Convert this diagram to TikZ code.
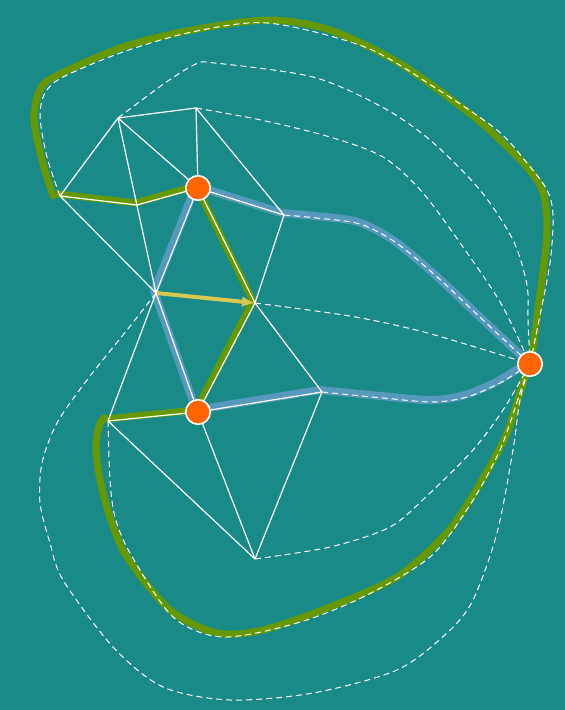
\documentclass[tikz,border=0pt]{standalone}
\usepackage{tikz}
\usetikzlibrary{arrows.meta}
\definecolor{bgteal}{HTML}{1A8A88}
\definecolor{leaf}{HTML}{669900}
\definecolor{steel}{HTML}{5799BD}
\definecolor{flame}{HTML}{FF6600}
\definecolor{straw}{HTML}{D6C850}

\begin{document}
\begin{tikzpicture}[x=1pt,y=-1pt,
  edge/.style={draw=white,line width=1.2pt},
  dsh/.style={draw=white,line width=1pt,dash pattern=on 6pt off 4pt},
  grn/.style={draw=leaf,line width=7pt,line join=round,line cap=round},
  blu/.style={draw=steel,line width=8pt,line join=round,transform canvas={shift={(-2,-2)}}},
  vtx/.style={circle,fill=flame,draw=white,line width=1.6pt,minimum size=24.5pt,inner sep=0pt},
  ar/.style={-{Latex[length=13pt,width=11pt]},draw=straw,line width=4pt}]
\fill[bgteal] (0,0) rectangle (565,710);
\useasboundingbox (0,0) rectangle (565,710);
% mesh points
\coordinate (a) at (118,118);
\coordinate (b) at (196,108);
\coordinate (c) at (60,196);
\coordinate (d) at (137,205);
\coordinate (p1) at (198,188);
\coordinate (e) at (284,215);
\coordinate (f) at (156,293);
\coordinate (g) at (255,303);
\coordinate (p2) at (198,412);
\coordinate (h) at (108,421);
\coordinate (i) at (322,392);
\coordinate (j) at (255,559);
\coordinate (p3) at (530,364);
% green loop
\draw[grn] plot[smooth] coordinates {(53,196) (42,160) (34,120) (39,92) (54,77) (123,47) (192,30) (268,20) (330,30) (399,63) (468,112) (500,140) (527,167) (543,192) (547,230) (542,280) (533,347) (p3)};
\draw[grn] plot[smooth] coordinates {(p3) (523,383) (507,433) (490,466) (470,500) (445,535) (397,577) (330,607) (263,630) (217,633) (170,610) (127,557) (110,517) (100,480) (96,448) (99,426) (104,418)};
\draw[grn,transform canvas={shift={(-2,-2)}}] (c) -- (d) -- (p1) -- (g) -- (p2) -- (h);
% blue loop
\foreach \st in {blu,dsh}
  \draw[\st] plot[smooth] coordinates {(e) (317,218) (360,224) (395,242) (435,275) (483,320) (p3)};
\foreach \st in {blu,dsh}
  \draw[\st] plot[smooth] coordinates {(i) (383,398) (433,402) (467,397) (500,383) (p3)};
\draw[blu] (e) -- (p1) -- (f) -- (p2) -- (i);
\draw[ar] (f) -- (g);
% mesh
\draw[edge] (a) -- (b) (a) -- (c) (a) -- (p1) (a) -- (f) (b) -- (p1) (b) -- (e)
  (c) -- (d) -- (p1) (c) -- (f) (p1) -- (e) (p1) -- (f) (p1) -- (g) (e) -- (g)
  (f) -- (p2) (g) -- (p2) (f) -- (h) (g) -- (i) (h) -- (p2) (p2) -- (i)
  (h) -- (j) (p2) -- (j) (i) -- (j);
% dashed curves to p3
\draw[dsh] plot[smooth] coordinates {(c) (47,157) (40,117) (45,93) (63,77) (123,52) (192,32) (268,23) (365,47) (434,87) (497,130) (527,163) (547,190) (553,215) (550,263) (537,330) (p3)};
\draw[dsh] plot[smooth] coordinates {(a) (165,83) (196,64) (215,63) (313,77) (382,107) (430,140) (480,190) (513,240) (527,285) (528,320) (p3)};
\draw[dsh] plot[smooth] coordinates {(b) (261,120) (330,137) (383,157) (423,193) (470,257) (503,307) (p3)};
\draw[dsh] plot[smooth] coordinates {(g) (350,316) (420,331) (485,350) (p3)};
\draw[dsh] plot[smooth] coordinates {(j) (330,547) (390,527) (430,493) (473,450) (503,410) (p3)};
\draw[dsh] plot[smooth] coordinates {(h) (110,480) (115,517) (130,553) (173,617) (223,637) (297,623) (363,597) (430,557) (470,505) (500,450) (520,393) (p3)};
\draw[dsh] plot[smooth] coordinates {(f) (127,330) (87,380) (57,423) (42,463) (40,503) (50,543) (63,580) (113,647) (163,687) (230,700) (313,693) (397,670) (447,633) (473,600) (497,533) (513,450) (520,400) (p3)};
\node[vtx] (v1) at (p1) {};
\node[vtx] (v2) at (p2) {};
\node[vtx] (v3) at (p3) {};
\end{tikzpicture}
\end{document}
